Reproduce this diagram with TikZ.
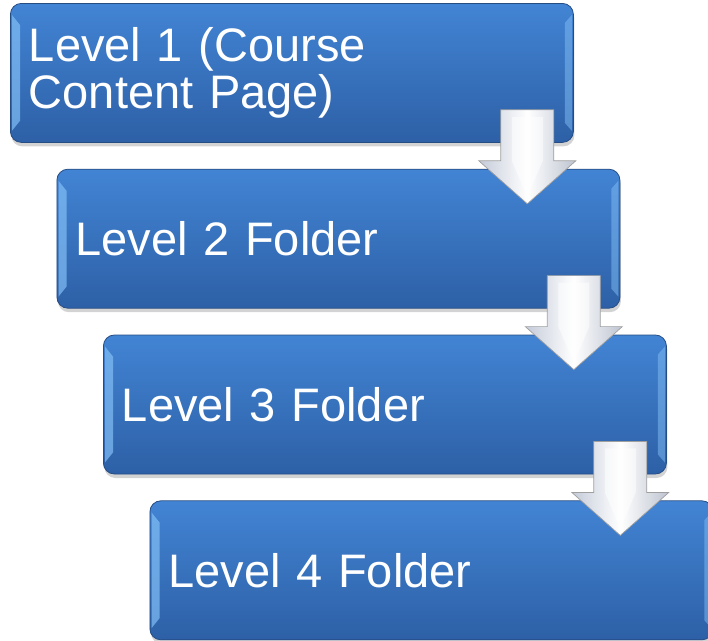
\documentclass[tikz,border=0pt]{standalone}
\usepackage{fontspec}
\setmainfont{Liberation Sans}
\usetikzlibrary{positioning, calc, shadows}

\definecolor{boxtop}{RGB}{66,132,212}
\definecolor{boxbot}{RGB}{45,96,166}
\definecolor{boxline}{RGB}{38,76,132}
\definecolor{boxhi}{RGB}{130,190,245}
\definecolor{arrowside}{RGB}{196,203,217}

\begin{document}
\begin{tikzpicture}[
    x=1pt, y=1pt,
    node distance=26pt,
    level/.style={rectangle, rounded corners=11pt, minimum width=563pt, minimum height=139pt,
        top color=boxtop, bottom color=boxbot, draw=boxline, line width=0.8pt,
        text=white, text width=526pt, inner xsep=18.5pt, align=left,
        font=\fontsize{47pt}{47pt}\selectfont,
        drop shadow={shadow xshift=1pt, shadow yshift=-4pt, opacity=0.35}},
    bevel/.style={fill=boxhi, opacity=0.7},
    downarrow/.style={draw=gray!75, line width=0.7pt, line join=miter,
        left color=arrowside, right color=arrowside!90!gray, middle color=white}
]
\useasboundingbox (0,0) rectangle (708,-640);

% Boxes
\node[level, anchor=north west] (L1) at (10,-3) {Level 1 (Course\\Content Page)};
\node[level, below=of L1.south west, anchor=north west, xshift=46.5pt] (L2) {Level 2 Folder};
\node[level, below=of L2.south west, anchor=north west, xshift=46.5pt] (L3) {Level 3 Folder};
\node[level, below=of L3.south west, anchor=north west, xshift=46.5pt] (L4) {Level 4 Folder};

% Bevel edges
\foreach \n in {L1,L2,L3,L4} {
    \fill[bevel] ($(\n.north west)+(2,-12)$) -- ($(\n.north west)+(10,-22)$)
        -- ($(\n.south west)+(10,22)$) -- ($(\n.south west)+(2,12)$) -- cycle;
    \fill[bevel, opacity=0.5] ($(\n.north east)+(-2,-12)$) -- ($(\n.north east)+(-9,-20)$)
        -- ($(\n.south east)+(-9,20)$) -- ($(\n.south east)+(-2,12)$) -- cycle;
}

% Arrows
\foreach \a/\b in {L1/L2, L2/L3, L3/L4} {
    \path[downarrow] ($(\a.south east)+(-73,33)$) -- ($(\a.south east)+(-20,33)$)
        -- ($(\a.south east)+(-20,-18)$) -- ($(\a.south east)+(2,-18)$)
        -- ($(\b.north east)+(-93,-35)$)
        -- ($(\a.south east)+(-95,-18)$) -- ($(\a.south east)+(-73,-18)$) -- cycle;
    \fill[white, opacity=0.55] ($(\a.south east)+(-62,26)$) -- ($(\a.south east)+(-31,26)$)
        -- ($(\a.south east)+(-31,-18)$) -- ($(\b.north east)+(-93,-28)$)
        -- ($(\a.south east)+(-62,-18)$) -- cycle;
}

\end{tikzpicture}
\end{document}
